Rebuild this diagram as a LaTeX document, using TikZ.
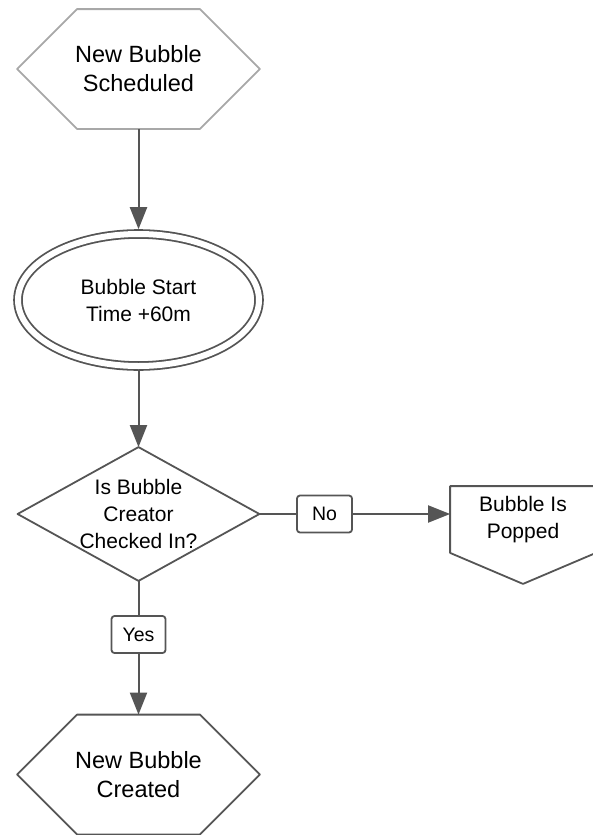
\documentclass[tikz,border=0pt]{standalone}
\usepackage{fontspec}
\setmainfont{Liberation Sans}
\usetikzlibrary{arrows.meta,shapes.geometric}
\definecolor{edgegray}{HTML}{555555}
\definecolor{palegray}{HTML}{A8A8A8}

\begin{document}
\begin{tikzpicture}[x=1pt,y=-1pt,>={Triangle[length=22pt,width=17pt]},line width=1.8pt,line join=round,
  bigtext/.style={font=\fontsize{23.5}{29}\selectfont,align=center},
  plaintext/.style={font=\fontsize{21}{27}\selectfont,align=center},
  hexbox/.style={bigtext,minimum width=241pt,minimum height=118pt,inner sep=0pt},
  tagbox/.style={draw=edgegray,fill=white,rounded corners=3pt,font=\fontsize{19.5}{22}\selectfont,minimum height=37pt,inner sep=0pt},
  link/.style={draw=edgegray,line width=2pt}]
\useasboundingbox (0,0) rectangle (593,835);
\node[hexbox] (sched) at (138.5,69) {New Bubble\\Scheduled};
\draw[palegray] (sched.west) -- ([xshift=60pt]sched.north west) -- ([xshift=-60pt]sched.north east) -- (sched.east) -- ([xshift=-60pt]sched.south east) -- ([xshift=60pt]sched.south west) -- cycle;
\node[ellipse,draw=edgegray,double,double distance=6pt,minimum width=241pt,minimum height=132pt,outer sep=4.8pt,plaintext] (start) at (138.5,300) {Bubble Start\\Time +60m};
\node[plaintext,minimum width=240pt,minimum height=132pt,inner sep=0pt] (check) at (138.5,514) {Is Bubble\\Creator\\Checked In?};
\draw[edgegray] (check.north) -- (check.east) -- (check.south) -- (check.west) -- cycle;
\node[plaintext,minimum width=144pt,minimum height=65pt,inner sep=0pt] (popped) at (523,519.5) {Bubble Is\\Popped};
\draw[edgegray] (popped.south west) -- (popped.north west) -- (popped.north east) -- (popped.south east) -- ([yshift=-31pt]popped.south) -- cycle;
\node[hexbox] (created) at (138.5,774.5) {New Bubble\\Created};
\draw[edgegray] (created.west) -- ([xshift=60pt]created.north west) -- ([xshift=-60pt]created.north east) -- (created.east) -- ([xshift=-60pt]created.south east) -- ([xshift=60pt]created.south west) -- cycle;
\node[tagbox,minimum width=55pt] (no) at (324.5,514) {No};
\node[tagbox,minimum width=54pt] (yes) at (138.5,634.5) {Yes};
\draw[link,->] (sched.south) -- (start.north);
\draw[link,->] (start.south) -- (check.north);
\draw[link] (check.east) -- (no.west);
\draw[link,->] (no.east) -- (no.east -| popped.west);
\draw[link] (check.south) -- (yes.north);
\draw[link,->] (yes.south) -- (created.north);
\end{tikzpicture}
\end{document}
